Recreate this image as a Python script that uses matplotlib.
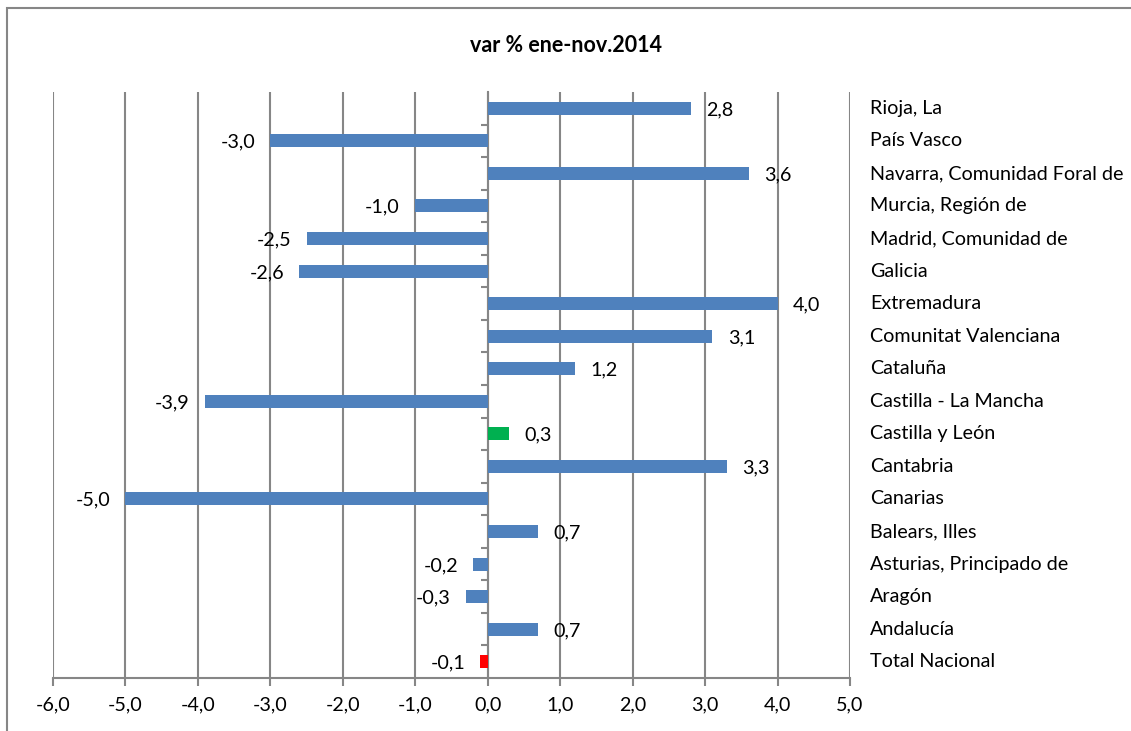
import matplotlib.pyplot as plt
import matplotlib.transforms as mtransforms
from matplotlib.patches import Rectangle

plt.rcParams["font.family"] = ["Lato", "DejaVu Sans"]

regions = [
    "Rioja, La", "País Vasco", "Navarra, Comunidad Foral de",
    "Murcia, Región de", "Madrid, Comunidad de", "Galicia", "Extremadura",
    "Comunitat Valenciana", "Cataluña", "Castilla - La Mancha",
    "Castilla y León", "Cantabria", "Canarias", "Balears, Illes",
    "Asturias, Principado de", "Aragón", "Andalucía", "Total Nacional",
]
values = [2.8, -3.0, 3.6, -1.0, -2.5, -2.6, 4.0, 3.1, 1.2, -3.9,
          0.3, 3.3, -5.0, 0.7, -0.2, -0.3, 0.7, -0.1]
special_colors = {"Castilla y León": "#00b050", "Total Nacional": "#ff0000"}
x_ticks = [-6, -5, -4, -3, -2, -1, 0, 1, 2, 3, 4, 5]

fs = 14.2

fig = plt.figure(figsize=(11.31, 7.31), dpi=100)
ax = fig.add_axes([53 / 1131, 1 - 678 / 731, 797 / 1131, 586 / 731])

n = len(regions)
ypos = list(range(n))
colors = [special_colors.get(r, "#4f81bd") for r in regions]
ax.barh(ypos, values, height=0.4, color=colors, zorder=3)

ax.set_xlim(-6, 5)
ax.set_ylim(n - 0.5, -0.5)

grid_c = "#868686"
ax.set_xticks(x_ticks)
ax.set_xticklabels([f"{t:.1f}".replace(".", ",") for t in x_ticks], fontsize=fs)
ax.grid(axis="x", color=grid_c, lw=1.5, zorder=0)
ax.tick_params(axis="x", direction="out", length=6, width=1.5, color=grid_c, pad=7)

# vertical axis at zero with boundary ticks
ax.spines["left"].set_position(("data", 0))
ax.spines["left"].set_color(grid_c)
ax.spines["left"].set_linewidth(1.5)
ax.set_yticks([i - 0.5 for i in range(1, n)])
ax.set_yticklabels([])
ax.tick_params(axis="y", direction="out", length=5, width=1.5, color=grid_c)
for s in ["top", "right"]:
    ax.spines[s].set_visible(False)
ax.spines["bottom"].set_color(grid_c)
ax.spines["bottom"].set_linewidth(1.5)

# data labels
for y, v in zip(ypos, values):
    lbl = f"{v:.1f}".replace(".", ",")
    if v >= 0:
        ax.annotate(lbl, (v, y), xytext=(11, -1), textcoords="offset points",
                    ha="left", va="center", fontsize=fs, zorder=4)
    else:
        ax.annotate(lbl, (v, y), xytext=(-11, -1), textcoords="offset points",
                    ha="right", va="center", fontsize=fs, zorder=4)

# category names on the right
trans = mtransforms.blended_transform_factory(ax.transAxes, ax.transData)
for y, r in zip(ypos, regions):
    ax.text((870 - 53) / 797, y, r, transform=trans, ha="left", va="center",
            fontsize=fs)

fig.text(0.5, 1 - 45 / 731, "var % ene-nov.2014", ha="center", va="center",
         fontsize=15.5, fontweight="bold")

# outer chart border
fig.patches.append(Rectangle((7 / 1131, -0.1), 1.2, 1 - 8 / 731 + 0.1,
                             transform=fig.transFigure, fill=False,
                             edgecolor=grid_c, lw=1.5))

fig.savefig("out.png", dpi=100)
